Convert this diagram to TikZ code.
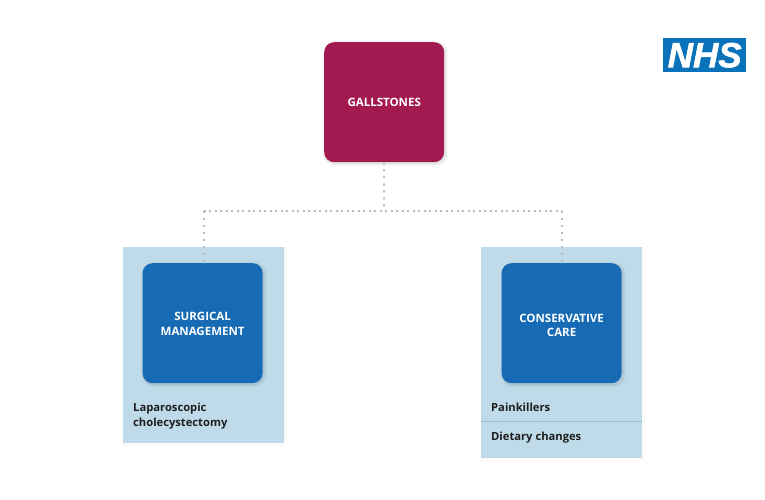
\documentclass[tikz,border=0pt]{standalone}
\usepackage{fontspec}
\setmainfont{Open Sans}
\newfontfamily\logofont[FakeBold=1.6]{Liberation Sans}
\newcommand{\nudged}[2]{\raisebox{-#1}[\height][\depth]{#2}}
\tikzset{
  softshadow/.style={
    preaction={draw=black,draw opacity=.025,line width=6pt,transform canvas={xshift=1.5pt,yshift=-1.5pt}},
    preaction={draw=black,draw opacity=.035,line width=3.5pt,transform canvas={xshift=1.5pt,yshift=-1.5pt}},
    preaction={draw=black,draw opacity=.05,line width=1.5pt,transform canvas={xshift=1pt,yshift=-1pt}}},
  tile/.style={softshadow,rounded corners=10pt,minimum width=120pt,minimum height=120pt,inner sep=0pt,
    align=center,text=white,font=\fontsize{11.5}{15}\selectfont\bfseries,anchor=north west},
  redtile/.style={tile,fill=crimsonnhs},
  bluetile/.style={tile,fill=bluenhs},
  panel/.style={fill=panelblue,inner sep=0pt,anchor=north west,minimum width=161pt,
    preaction={draw=black,draw opacity=.02,line width=3pt,transform canvas={xshift=1pt,yshift=-1pt}}},
  itemtext/.style={text=itemdark,font=\fontsize{11.2}{15}\selectfont\bfseries,align=left,anchor=base west,inner sep=0pt},
  vlink/.style={draw=dotgrey,line width=2pt,dash pattern=on 2pt off 5pt},
  hlink/.style={draw=dotgrey,line width=2pt,dash pattern=on 2pt off 3.5pt},
  divider/.style={draw=dividerblue,line width=.8pt}
}
\definecolor{crimsonnhs}{HTML}{A31A50}
\definecolor{bluenhs}{HTML}{176BB4}
\definecolor{panelblue}{HTML}{BFDBEA}
\definecolor{itemdark}{HTML}{1E1E1E}
\definecolor{dotgrey}{HTML}{B9B9BF}
\definecolor{dividerblue}{HTML}{93BFD2}
\definecolor{logoblue}{HTML}{0A72BB}
\begin{document}
\begin{tikzpicture}[x=1pt,y=-1pt]
\useasboundingbox (0,0) rectangle (765,500);
\node[panel,minimum height=196pt] (leftpanel) at (123,247) {};
\node[panel,minimum height=211pt] (rightpanel) at (481,247) {};
\node[redtile] (gall) at (324,42) {GALLSTONES};
\node[bluetile] (surg) at (142.4,263) {\nudged{1pt}{SURGICAL}\\\nudged{1pt}{MANAGEMENT}};
\node[bluetile] (cons) at (501.4,263) {\nudged{3pt}{CONSERVATIVE}\\\nudged{2pt}{CARE}};
\coordinate (junction) at (384,211);
\coordinate (leftcorner) at (203.5,211);
\coordinate (rightcorner) at (561.5,211);
\draw[vlink] (gall.south) -- (junction);
\draw[hlink] (leftcorner) -- (rightcorner);
\draw[vlink] (leftcorner) -- (leftcorner |- surg.north);
\draw[vlink] (rightcorner) -- (rightcorner |- cons.north);
\node[itemtext] (lap) at (133,426) {Laparoscopic\\cholecystectomy};
\node[itemtext] (pain) at (491,411) {Painkillers};
\coordinate (divl) at (rightpanel.west |- 0,421.5);
\coordinate (divr) at (rightpanel.east |- 0,421.5);
\draw[divider] (divl) -- (divr);
\node[itemtext] (diet) at (491,440) {Dietary changes};
\node[fill=logoblue,anchor=north west,minimum width=83pt,minimum height=34pt,inner sep=0pt,text=white,
  font=\logofont\fontsize{35}{35}\selectfont\bfseries\itshape] (nhs) at (663,38) {NHS};
\end{tikzpicture}
\end{document}
